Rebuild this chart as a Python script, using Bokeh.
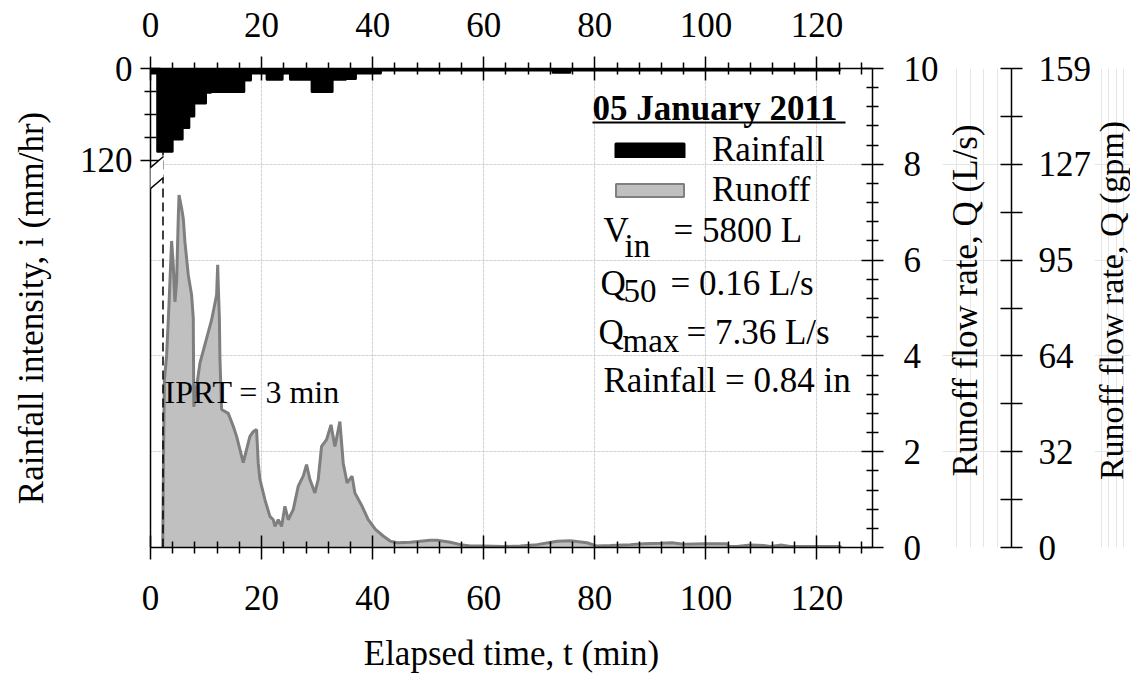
import math
from bokeh.plotting import figure
from bokeh.layouts import row
from bokeh.models import (Range1d, LinearAxis, FixedTicker, Label, Arrow, PolyAnnotation,
                          Grid, Legend, LegendItem)
from bokeh.embed import file_html
from bokeh.resources import INLINE

FONT = "Liberation Serif"

# ---------------- data ----------------
# rainfall blocks (minutes, mm/hr)
rain_start = [0.0, 1.3, 3.9, 5.7, 6.9, 7.8, 9.9, 10.8, 14.0, 16.8, 18.0, 21.0, 23.7, 25.2, 29.1, 32.7, 35.1, 36.9, 41.4, 72.5, 75.5]
rain_end   = [1.3, 3.9, 5.7, 6.9, 7.8, 9.9, 10.8, 14.0, 16.8, 18.0, 21.0, 23.7, 25.2, 29.1, 32.7, 35.1, 36.9, 41.4, 72.5, 75.5, 124.0]
rain_int   = [6, 108, 92, 77, 62, 45, 31, 30, 30, 15, 6, 14, 6, 14, 30, 14, 13, 6, 2, 5, 2]

# runoff (minutes, L/s)
runoff_t = [2.2, 2.35, 2.5, 2.9, 3.3, 3.8, 4.1, 4.4, 4.7, 5.0,
            5.14, 5.6, 5.9, 6.2, 6.8, 7.4, 7.7, 7.8, 8.9, 11.0,
            11.3, 11.9, 12.1, 12.2, 12.4, 12.5, 12.8, 14.0, 14.9, 15.5,
            16.7, 17.9, 18.5, 19.1, 19.4, 19.7, 20.6, 21.5, 22.1, 22.4,
            23.0, 23.6, 24.2, 24.8, 25.7, 26.6, 27.5, 28.1, 28.7, 29.6,
            30.2, 30.8, 31.7, 32.5, 33.2, 34.1, 34.7, 35.4, 36.3, 36.8,
            38.1, 39.2, 40.5, 41.9, 43.2, 44.4, 46.8, 50.4, 51.6, 54.0,
            55.8, 57.6, 59.9, 63.6, 66.6, 69.6, 73.2, 75.6, 78.6, 80.4,
            82.8, 86.4, 88.8, 91.8, 93.9, 96.0, 99.9, 103.8, 104.1, 105.6,
            108.0, 110.4, 111.6, 113.7, 115.2, 124.2, 124.3]
runoff_q = [0, 2.0, 3.5, 4.0, 5.0, 6.4, 5.9, 5.13, 5.55, 6.88,
            7.36, 7.08, 6.87, 6.38, 5.69, 5.27, 4.79, 2.94, 3.85, 4.75,
            4.92, 5.27, 5.9, 5.48, 4.79, 3.96, 2.88, 2.8, 2.53, 2.32,
            1.77, 2.32, 2.42, 2.46, 1.76, 1.42, 1.0, 0.65, 0.58, 0.44,
            0.58, 0.44, 0.86, 0.58, 0.79, 1.28, 1.49, 1.73, 1.42, 1.14,
            1.42, 2.11, 2.25, 2.56, 2.11, 2.63, 1.76, 1.35, 1.49, 1.14,
            0.86, 0.58, 0.38, 0.24, 0.13, 0.10, 0.11, 0.15, 0.15, 0.11,
            0.06, 0.03, 0.03, 0.02, 0.03, 0.06, 0.13, 0.14, 0.10, 0.03,
            0.04, 0.06, 0.08, 0.09, 0.10, 0.07, 0.08, 0.08, 0.02, 0.02,
            0.05, 0.04, 0.02, 0.05, 0.02, 0.02, 0]

iprt_t = 2.25        # start of runoff (dashed marker), minutes
iprt_top = 8.25      # dashed marker top, L/s scale

x_ticks = [0, 20, 40, 60, 80, 100, 120]
x_minor = [m for m in range(0, 130, 4) if m % 20]
q_ticks = [0, 2, 4, 6, 8, 10]
q_minor = [v / 10 for v in range(0, 101, 4) if v % 20]
gpm_labels = ["0", "32", "64", "95", "127", "159"]
gpm_minor = [1, 3, 5, 7, 9]
rain_ticks = [0, 120]
rain_minor = [30, 60, 90]
grid_x = [20, 40, 60, 80, 100, 120]
grid_q = [2, 4, 6, 8]

# ---------------- main figure ----------------
p = figure(width=942, height=675, x_range=Range1d(0, 130), y_range=Range1d(0, 10),
           output_backend="svg", toolbar_location=None,
           x_axis_location=None, y_axis_location=None,
           min_border_left=150, min_border_right=70, min_border_top=68, min_border_bottom=127)
p.outline_line_color = None
p.background_fill_color = "white"
p.border_fill_color = "white"
p.extra_y_ranges = {"rain": Range1d(start=626.1, end=0)}

gx = Grid(dimension=0, ticker=FixedTicker(ticks=grid_x), grid_line_color="#c4c4c4",
          grid_line_dash="1 3", grid_line_width=1.2)
gy = Grid(dimension=1, ticker=FixedTicker(ticks=grid_q), grid_line_color="#c4c4c4",
          grid_line_dash="1 3", grid_line_width=1.2)
p.add_layout(gx)
p.add_layout(gy)

# runoff
p.varea(x=runoff_t, y1=0, y2=runoff_q, fill_color="#c0c0c0")
p.line(x=runoff_t, y=runoff_q, line_color="#7f7f7f", line_width=3)

# rainfall
rain_r = p.quad(left=rain_start, right=rain_end, top=0, bottom=rain_int, y_range_name="rain",
                fill_color="black", line_color="black", line_width=3, line_join="round")
nan = float("nan")
runoff_legend_r = p.quad(left=[nan], right=[nan], top=[nan], bottom=[nan], fill_color="#c0c0c0",
                         line_color="#808080", line_width=2)

# IPRT dashed marker
p.segment(x0=[iprt_t], y0=[0], x1=[iprt_t], y1=[iprt_top], line_color="black",
          line_width=1.5, line_dash="9 5")


def style(ax, mi, mo, ni, no):
    ax.major_tick_in = mi
    ax.major_tick_out = mo
    ax.minor_tick_in = ni
    ax.minor_tick_out = no
    ax.axis_line_width = 1.5
    ax.major_tick_line_width = 1.5
    ax.minor_tick_line_width = 1.5
    ax.axis_line_color = "black"
    ax.major_tick_line_color = "black"
    ax.minor_tick_line_color = "black"
    ax.major_label_text_font = FONT
    ax.major_label_text_font_size = "35px"
    ax.major_label_text_color = "black"
    ax.axis_label_text_font = FONT
    ax.axis_label_text_font_size = "35px"
    ax.axis_label_text_font_style = "normal"
    ax.axis_label_text_color = "black"


xb = LinearAxis(ticker=FixedTicker(ticks=x_ticks, minor_ticks=x_minor),
                axis_label="Elapsed time, t (min)")
style(xb, 12, 12, 6, 6)
xb.major_label_standoff = 26
xb.axis_label_standoff = 21
p.add_layout(xb, "below")

xt = LinearAxis(ticker=FixedTicker(ticks=x_ticks, minor_ticks=x_minor))
style(xt, 12, 12, 6, 6)
xt.major_label_standoff = 20
p.add_layout(xt, "above")

yl = LinearAxis(y_range_name="rain", ticker=FixedTicker(ticks=rain_ticks, minor_ticks=rain_minor),
                axis_label="Rainfall intensity, i (mm/hr)")
style(yl, 10, 10, 6, 6)
yl.major_label_standoff = 8
yl.axis_label_standoff = 26
p.add_layout(yl, "left")

yr = LinearAxis(ticker=FixedTicker(ticks=q_ticks, minor_ticks=q_minor))
style(yr, 11, 11, 6, 6)
yr.major_label_standoff = 20
p.add_layout(yr, "right")

# axis break
p.add_layout(PolyAnnotation(xs=[136, 163, 163, 136], ys=[179, 156, 177, 200],
                            xs_units="canvas", ys_units="canvas",
                            fill_color="white", fill_alpha=1, line_color=None))
for (x0, y0, x1, y1) in [(136, 179, 163, 156), (136, 200, 163, 177)]:
    p.add_layout(Arrow(x_start=x0, y_start=y0, x_end=x1, y_end=y1, start=None, end=None,
                       start_units="canvas", end_units="canvas",
                       line_color="black", line_width=1.5))

# legend
leg = Legend(items=[LegendItem(label="Rainfall", renderers=[rain_r]),
                    LegendItem(label="Runoff", renderers=[runoff_legend_r])],
             location=(457, 337), glyph_width=85, glyph_height=16, label_standoff=20,
             spacing=0, padding=0, margin=0, border_line_color=None, background_fill_alpha=0,
             label_text_font=FONT, label_text_font_size="35px", label_text_color="black")
p.add_layout(leg, "center")


def lab(fig, x, y, text, size="35px", style_="normal", angle=0.0, align="left",
        baseline="alphabetic", line_height=1.2):
    fig.add_layout(Label(x=x, y=y, x_units="canvas", y_units="canvas", text=text, angle=angle,
                         text_font=FONT, text_font_size=size, text_font_style=style_,
                         text_color="black", text_align=align, text_baseline=baseline,
                         text_line_height=line_height))


lab(p, 592, 108, "05 January 2011", "35px", "bold")
p.add_layout(Arrow(x_start=592, y_start=122, x_end=845, y_end=122, start=None, end=None,
                   start_units="canvas", end_units="canvas", line_color="black", line_width=2))
lab(p, 603, 230, "V")
lab(p, 624, 245, "in", "33px")
lab(p, 673, 230, "= 5800 L")
lab(p, 600, 283, "Q")
lab(p, 623, 290, "50", "33px")
lab(p, 670, 283, "= 0.16 L/s")
lab(p, 598, 332, "Q")
lab(p, 622, 340, "max", "33px")
lab(p, 686, 332, "= 7.36 L/s")
lab(p, 603, 380, "Rainfall = 0.84 in")
lab(p, 164, 391, "IPRT = 3 min", "32px")


def strip(width, border_right):
    f = figure(width=width, height=675, x_range=Range1d(0, 1), y_range=p.y_range,
               output_backend="svg", toolbar_location=None,
               x_axis_location=None, y_axis_location=None,
               min_border_left=0, min_border_right=border_right,
               min_border_top=68, min_border_bottom=127)
    f.outline_line_color = None
    f.background_fill_color = "white"
    f.border_fill_color = "white"
    return f


# strip 2: L/s title and the gpm axis (its line at canvas x 1014)
p2 = strip(152, 80)
yg = LinearAxis(ticker=FixedTicker(ticks=q_ticks, minor_ticks=gpm_minor),
                major_label_overrides={t: s for t, s in zip(q_ticks, gpm_labels)})
style(yg, 11, 11, 11, 11)
yg.major_label_standoff = 16
p2.add_layout(yg, "right")
lab(p2, 23, 300, "Runoff flow rate, Q (L/s)", angle=math.pi / 2, align="center",
    baseline="middle", line_height=1.0)

# strip 3: gpm title
p3 = strip(36, 0)
lab(p3, 17, 300, "Runoff flow rate, Q (gpm)", size="34px", angle=math.pi / 2, align="center",
    baseline="middle", line_height=1.0)

layout = row(p, p2, p3)
open("out.html", "w").write(file_html(layout, INLINE))
